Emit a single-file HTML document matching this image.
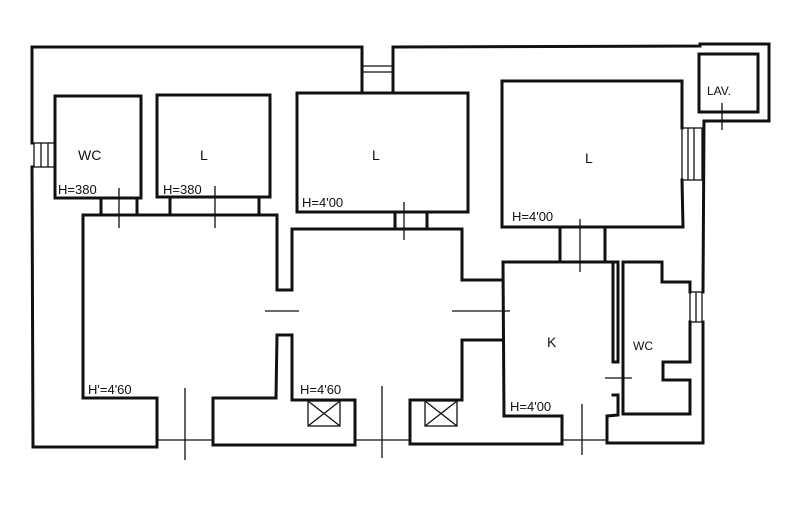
<!DOCTYPE html>
<html><head><style>
html,body{margin:0;padding:0;background:#fff;}
svg{display:block;}
text{font-family:"Liberation Sans",sans-serif;fill:#111;}
</style></head><body>
<svg width="796" height="513" viewBox="0 0 796 513" xmlns="http://www.w3.org/2000/svg">
<rect width="796" height="513" fill="#fff"/>
<g fill="none" stroke="#111" stroke-width="3" stroke-linecap="square">
<!-- outer -->
<polyline points="32,143 32,47 362,47"/>
<polyline points="393,47 700,46 700,44 769,44 769,121 704,121"/>
<line x1="32" y1="167" x2="33" y2="447"/>
<polyline points="33,447 157,447 157,398"/>
<polyline points="213,398 213,445 355,445 355,400"/>
<polyline points="410,400 410,444 562,444 562,416"/>
<polyline points="607,416 607,443 703,443 703,322"/>
<line x1="704" y1="121" x2="703" y2="292"/>
<!-- top door -->
<line x1="362" y1="47" x2="362" y2="93"/>
<line x1="393" y1="47" x2="393" y2="93"/>
<!-- WC -->
<rect x="55" y="96" width="86" height="102"/>
<line x1="101" y1="198" x2="101" y2="215"/>
<line x1="137" y1="198" x2="137" y2="215"/>
<!-- L -->
<rect x="157" y="95" width="113" height="102"/>
<line x1="170" y1="197" x2="170" y2="215"/>
<line x1="259" y1="197" x2="259" y2="215"/>
<!-- L centre -->
<rect x="297" y="93" width="171" height="119"/>
<line x1="395" y1="212" x2="395" y2="229"/>
<line x1="427" y1="212" x2="427" y2="229"/>
<!-- L right -->
<polyline points="682,128 682,81 502,81 502,227 683,227 682,180"/>
<line x1="560" y1="227" x2="560" y2="262"/>
<line x1="605" y1="227" x2="605" y2="262"/>
<!-- LAV -->
<rect x="699" y="54" width="59" height="58"/>
<!-- big room -->
<polyline points="277,290 277,215 83,215 83,398 157,398"/>
<polyline points="213,398 276,398 277,335"/>
<line x1="277" y1="290" x2="292" y2="290"/>
<line x1="277" y1="335" x2="292" y2="335"/>
<!-- middle -->
<polyline points="292,290 292,229 462,229 462,280"/>
<polyline points="292,335 292,400 355,400"/>
<polyline points="410,400 462,400 462,340"/>
<line x1="462" y1="280" x2="503" y2="280"/>
<line x1="462" y1="340" x2="503" y2="340"/>
<!-- K -->
<polyline points="562,416 504,416 503,262 618,262 618,362 613,362"/>
<line x1="613" y1="262" x2="613" y2="362"/>
<polyline points="613,395 618,395 618,415 607,416"/>
<!-- WC right -->
<polyline points="690,322 690,362 663,362 663,380 690,380 690,414 623,414 623,262 662,262 662,282 690,282 690,292"/>
</g>
<g fill="none" stroke="#111" stroke-width="1.3">
<rect x="34" y="143" width="21" height="24"/>
<line x1="41" y1="143" x2="41" y2="167"/><line x1="48" y1="143" x2="48" y2="167"/>
<line x1="362" y1="66" x2="393" y2="66"/><line x1="362" y1="72" x2="393" y2="72"/>
<rect x="682" y="128" width="20" height="52"/>
<line x1="688" y1="128" x2="688" y2="180"/><line x1="694" y1="128" x2="694" y2="180"/>
<rect x="690" y="292" width="12" height="30"/><line x1="696" y1="292" x2="696" y2="322"/>
<line x1="157" y1="440" x2="213" y2="440"/>
<line x1="355" y1="440" x2="410" y2="440"/>
<line x1="562" y1="440" x2="607" y2="440"/>
<line x1="119" y1="188" x2="119" y2="228"/>
<line x1="215" y1="186" x2="215" y2="228"/>
<line x1="404" y1="202" x2="404" y2="240"/>
<line x1="580" y1="219" x2="580" y2="272"/>
<line x1="722" y1="103" x2="722" y2="130"/>
<line x1="265" y1="311" x2="299" y2="311"/>
<line x1="452" y1="311" x2="510" y2="311"/>
<line x1="605" y1="378" x2="632" y2="378"/>
<line x1="185" y1="388" x2="185" y2="460"/>
<line x1="382" y1="386" x2="382" y2="458"/>
<line x1="582" y1="404" x2="582" y2="455"/>
<rect x="308" y="401" width="32" height="25"/><line x1="308" y1="401" x2="340" y2="426"/><line x1="340" y1="401" x2="308" y2="426"/>
<rect x="425" y="401" width="32" height="25"/><line x1="425" y1="401" x2="457" y2="426"/><line x1="457" y1="401" x2="425" y2="426"/>
</g>
<g font-size="14">
<text x="78" y="160">WC</text>
<text x="200" y="160">L</text>
<text x="372" y="160">L</text>
<text x="585" y="163">L</text>
<text x="707" y="95" font-size="12">LAV.</text>
<text x="547" y="347">K</text>
<text x="633" y="350" font-size="12">WC</text>
</g>
<g font-size="13">
<text x="58" y="194">H=380</text>
<text x="163" y="194">H=380</text>
<text x="302" y="207">H=4'00</text>
<text x="512" y="221">H=4'00</text>
<text x="88" y="394">H'=4'60</text>
<text x="300" y="394">H=4'60</text>
<text x="510" y="411">H=4'00</text>
</g>
</svg>
</body></html>
